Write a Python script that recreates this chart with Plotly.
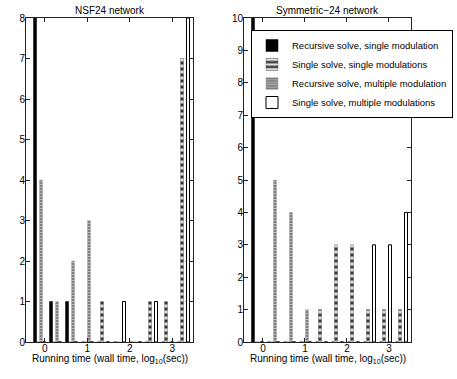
import plotly.graph_objects as go

# ---- data ----
series_names = ["Recursive solve, single modulation",
                "Single solve, single modulations",
                "Recursive solve, multiple modulation",
                "Single solve, multiple modulations"]

# bin centres (log10 seconds)
nsf_bins = [-0.122, 0.254, 0.631, 1.007, 1.384, 1.760, 2.137, 2.513, 2.890, 3.266]
sym_bins = [-0.131, 0.250, 0.631, 1.012, 1.393, 1.774, 2.155, 2.536, 2.917, 3.298]

nsf_rec_single = [8, 1, 1, 0, 0, 0, 0, 0, 0, 0]
nsf_one_single = [0, 0, 0, 0, 1, 0, 0, 1, 1, 7]
nsf_rec_multi  = [4, 1, 2, 3, 0, 0, 0, 0, 0, 0]
nsf_one_multi  = [0, 0, 0, 0, 0, 1, 0, 1, 0, 8]

sym_rec_single = [10, 0, 0, 0, 0, 0, 0, 0, 0, 0]
sym_one_single = [0, 0, 0, 0, 1, 3, 3, 1, 1, 1]
sym_rec_multi  = [0, 5, 4, 1, 0, 0, 0, 0, 0, 0]
sym_one_multi  = [0, 0, 0, 0, 0, 0, 0, 3, 3, 4]

x_ticks = [0, 1, 2, 3]
titles = ["NSF24 network", "Symmetric\u221224 network"]
x_title = "Running time (wall time, log<sub>10</sub>(sec))"

FONT = "Liberation Sans, Arial, Helvetica, sans-serif"

styles = [
    dict(marker=dict(color="#000000", line=dict(color="#000000", width=0.5))),
    dict(marker=dict(color="#e4e1d8", line=dict(color="#555555", width=0.4),
                     pattern=dict(shape="-", fgcolor="#333333", bgcolor="#e4e1d8",
                                  size=6, solidity=0.5, fillmode="replace"))),
    dict(marker=dict(color="#808080", line=dict(color="#999999", width=0.4),
                     pattern=dict(shape="-", fgcolor="#b8b8b8", bgcolor="#7a7a7a",
                                  size=3, solidity=0.4, fillmode="replace"))),
    dict(marker=dict(color="#ffffff", line=dict(color="#000000", width=1))),
]

fig = go.Figure()
panels = [
    (nsf_bins, [nsf_rec_single, nsf_one_single, nsf_rec_multi, nsf_one_multi], "x", "y", False),
    (sym_bins, [sym_rec_single, sym_one_single, sym_rec_multi, sym_one_multi], "x2", "y2", True),
]
for bins, series, xa, ya, show in panels:
    for name, vals, st in zip(series_names, series, styles):
        fig.add_trace(go.Bar(x=bins, y=vals, name=name, xaxis=xa, yaxis=ya,
                             showlegend=show, hoverinfo="skip", **st))

W, H = 457, 379
def px_x(v): return v / W
def px_y(v): return 1 - v / H

ax_common = dict(showline=True, linecolor="#222222", linewidth=1, mirror="ticks",
                 ticks="inside", ticklen=4, tickcolor="#222222", showgrid=False,
                 zeroline=False, tickfont=dict(family=FONT, size=10, color="#000"))

fig.update_layout(
    width=W, height=H, margin=dict(l=0, r=0, t=0, b=0, autoexpand=False),
    paper_bgcolor="white", plot_bgcolor="white",
    barmode="group", bargap=0.25, bargroupgap=0.0,
    font=dict(family=FONT, size=10, color="#000"),
    xaxis=dict(domain=[px_x(26), px_x(193)], range=[-0.44, 3.489], tickvals=x_ticks,
               anchor="y", ticklabelstandoff=-3, **ax_common),
    yaxis=dict(domain=[px_y(342), px_y(18)], range=[0, 8], dtick=1, anchor="x",
               ticklabelstandoff=-2, **ax_common),
    xaxis2=dict(domain=[px_x(244), px_x(411)], range=[-0.452, 3.524], tickvals=x_ticks,
                anchor="y2", ticklabelstandoff=-3, **ax_common),
    yaxis2=dict(domain=[px_y(342), px_y(18)], range=[0, 10], dtick=1, anchor="x2",
                ticklabelstandoff=-2, **ax_common),
    legend=dict(x=px_x(251), y=px_y(30), xanchor="left", yanchor="top",
                bgcolor="white", bordercolor="#000", borderwidth=1,
                font=dict(family=FONT, size=9.5), tracegroupgap=0,
                itemwidth=30),
    showlegend=True,
)

for cx, t in zip([(26 + 193) / 2, (244 + 411) / 2], titles):
    fig.add_annotation(x=px_x(cx), y=px_y(10), xref="paper", yref="paper", text=t,
                       showarrow=False, xanchor="center", yanchor="middle",
                       font=dict(family=FONT, size=10))
    fig.add_annotation(x=px_x(cx), y=px_y(359), xref="paper", yref="paper", text=x_title,
                       showarrow=False, xanchor="center", yanchor="middle",
                       font=dict(family=FONT, size=10))

fig.write_html("out.html", config={"displayModeBar": False},
               post_script="document.body.style.margin='0';"
                           "document.body.style.overflow='hidden';")
